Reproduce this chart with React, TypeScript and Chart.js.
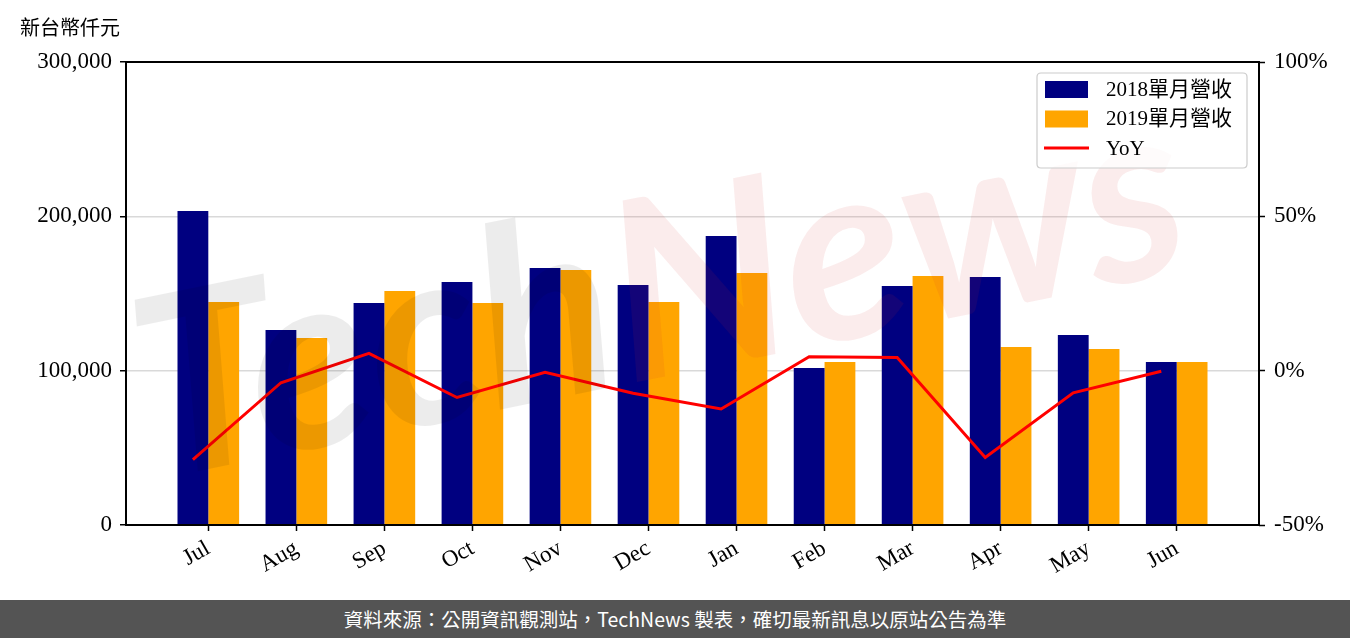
import React, { useEffect, useRef } from 'react';
import { Chart, registerables } from 'chart.js';

Chart.register(...registerables);

const months = ['Jul', 'Aug', 'Sep', 'Oct', 'Nov', 'Dec', 'Jan', 'Feb', 'Mar', 'Apr', 'May', 'Jun'];
const revenue2018 = [203500, 126400, 143800, 157500, 166500, 155500, 187300, 101700, 154900, 160700, 123100, 105600];
const revenue2019 = [144500, 121200, 151600, 143800, 165200, 144500, 163300, 105600, 161300, 115300, 114000, 105600];
const yoyPct = [-28.8, -3.9, 5.6, -8.7, -0.5, -7.3, -12.4, 4.5, 4.3, -28.1, -7.2, -0.2];
const leftTicks = [0, 100000, 200000, 300000];
const rightTicks = [-50, 0, 50, 100];

const unitLabel = '新台幣仟元';
const footerText = '資料來源：公開資訊觀測站，TechNews 製表，確切最新訊息以原站公告為準';

const serif = "'Liberation Serif', 'Noto Sans CJK TC', serif";
const cjk = "'Noto Sans CJK TC', 'Noto Sans', sans-serif";

const framePlugin = {
  id: 'frameAndExtras',
  afterDatasetsDraw(chart: any) {
    const ctx = chart.ctx;
    const a = chart.chartArea;
    // watermark
    ctx.save();
    ctx.translate(660, 295);
    ctx.rotate((-11.5 * Math.PI) / 180);
    ctx.font = 'italic 700 250px Lato';
    const wTech = ctx.measureText('Tech').width;
    const wNews = ctx.measureText('News').width;
    const total = wTech + wNews;
    ctx.textBaseline = 'middle';
    ctx.fillStyle = 'rgba(0,0,0,0.075)';
    ctx.fillText('Tech', -total / 2, 0);
    ctx.fillStyle = 'rgba(210,40,40,0.09)';
    ctx.fillText('News', -total / 2 + wTech, 0);
    ctx.restore();

    // frame
    ctx.save();
    ctx.strokeStyle = '#000';
    ctx.lineWidth = 2;
    ctx.strokeRect(a.left, a.top, a.right - a.left, a.bottom - a.top);
    ctx.restore();
  },
  afterDraw(chart: any) {
    const ctx = chart.ctx;
    const a = chart.chartArea;
    // unit label
    ctx.save();
    ctx.font = `20px ${cjk}`;
    ctx.fillStyle = '#000';
    ctx.textBaseline = 'middle';
    ctx.textAlign = 'left';
    ctx.fillText(unitLabel, 20, 27);
    ctx.restore();

    // legend
    const w = 210;
    const h = 95;
    const x0 = a.right - 12 - w;
    const y0 = a.top + 11;
    ctx.save();
    ctx.beginPath();
    const r = 4;
    ctx.moveTo(x0 + r, y0);
    ctx.lineTo(x0 + w - r, y0);
    ctx.quadraticCurveTo(x0 + w, y0, x0 + w, y0 + r);
    ctx.lineTo(x0 + w, y0 + h - r);
    ctx.quadraticCurveTo(x0 + w, y0 + h, x0 + w - r, y0 + h);
    ctx.lineTo(x0 + r, y0 + h);
    ctx.quadraticCurveTo(x0, y0 + h, x0, y0 + h - r);
    ctx.lineTo(x0, y0 + r);
    ctx.quadraticCurveTo(x0, y0, x0 + r, y0);
    ctx.closePath();
    ctx.fillStyle = 'rgba(255,255,255,0.8)';
    ctx.fill();
    ctx.strokeStyle = '#cccccc';
    ctx.lineWidth = 1.2;
    ctx.stroke();

    const ds = chart.data.datasets;
    const order = [0, 1, 2];
    ctx.font = `21px ${serif}`;
    ctx.textBaseline = 'middle';
    ctx.textAlign = 'left';
    order.forEach((idx, row) => {
      const d = ds[idx];
      const cy = y0 + 16 + row * 29.5;
      if (d.type === 'line') {
        ctx.strokeStyle = d.borderColor;
        ctx.lineWidth = 3;
        ctx.beginPath();
        ctx.moveTo(x0 + 7, cy);
        ctx.lineTo(x0 + 52, cy);
        ctx.stroke();
      } else {
        ctx.fillStyle = d.backgroundColor;
        ctx.fillRect(x0 + 8, cy - 8, 43, 17);
      }
      ctx.fillStyle = '#000';
      ctx.fillText(d.label, x0 + 69, cy + 1);
    });
    ctx.restore();
  },
};

export default function App() {
  const ref = useRef<HTMLCanvasElement | null>(null);

  useEffect(() => {
    document.body.style.margin = '0';
    const canvas = ref.current;
    if (!canvas) return;
    const tickFont = { family: serif, size: 23 };
    const chart = new Chart(canvas, {
      type: 'bar',
      data: {
        datasets: [
          {
            type: 'bar',
            label: '2018單月營收',
            data: revenue2018.map((v, i) => ({ x: i, y: v })),
            backgroundColor: '#000080',
            categoryPercentage: 0.7,
            barPercentage: 1.0,
            yAxisID: 'y',
            order: 2,
          },
          {
            type: 'bar',
            label: '2019單月營收',
            data: revenue2019.map((v, i) => ({ x: i, y: v })),
            backgroundColor: '#FFA500',
            categoryPercentage: 0.7,
            barPercentage: 1.0,
            yAxisID: 'y',
            order: 2,
          },
          {
            type: 'line',
            label: 'YoY',
            data: yoyPct.map((v, i) => ({ x: i - 0.175, y: v })),
            borderColor: '#FF0000',
            backgroundColor: '#FF0000',
            borderWidth: 3,
            pointRadius: 0,
            tension: 0,
            yAxisID: 'y1',
            order: 0,
          },
        ] as any,
      },
      options: {
        animation: false,
        responsive: false,
        maintainAspectRatio: false,
        layout: { padding: { top: 62, left: 0, right: 0, bottom: 0 } },
        plugins: {
          legend: { display: false },
          tooltip: { enabled: false },
          title: { display: false },
        },
        scales: {
          x: {
            type: 'linear',
            min: -0.935,
            max: 11.935,
            offset: false,
            afterBuildTicks: (s: any) => {
              s.ticks = months.map((_, i) => ({ value: i }));
            },
            afterFit: (s: any) => {
              s.height = 75;
            },
            ticks: {
              callback: (v: any) => months[Math.round(Number(v))] ?? '',
              minRotation: 30,
              maxRotation: 30,
              autoSkip: false,
              font: tickFont,
              color: '#000',
              padding: 4,
            },
            grid: { offset: false, drawOnChartArea: false, tickColor: '#000', tickLength: 6, tickWidth: 1.5 },
            border: { display: false },
          },
          y: {
            position: 'left',
            min: 0,
            max: 300000,
            afterBuildTicks: (s: any) => {
              s.ticks = leftTicks.map((v) => ({ value: v }));
            },
            afterFit: (s: any) => {
              s.width = 126;
            },
            ticks: {
              callback: (v: any) => Number(v).toLocaleString('en-US'),
              font: tickFont,
              color: '#000',
              padding: 8,
            },
            grid: { color: '#d9d9d9', lineWidth: 1.5, tickColor: '#000', tickLength: 6, tickWidth: 1.5 },
            border: { display: false },
          },
          y1: {
            position: 'right',
            min: -50,
            max: 100,
            afterBuildTicks: (s: any) => {
              s.ticks = rightTicks.map((v) => ({ value: v }));
            },
            afterFit: (s: any) => {
              s.width = 91;
            },
            ticks: {
              callback: (v: any) => `${v}%`,
              font: tickFont,
              color: '#000',
              padding: 9,
            },
            grid: { drawOnChartArea: false, tickColor: '#000', tickLength: 6, tickWidth: 1.5 },
            border: { display: false },
          },
        } as any,
      },
      plugins: [framePlugin],
    });
    return () => chart.destroy();
  }, []);

  return (
    <div style={{ width: 1350, height: 638, background: '#fff', overflow: 'hidden' }}>
      <canvas ref={ref} width={1350} height={600} style={{ display: 'block', width: 1350, height: 600 }} />
      <div
        style={{
          height: 38,
          background: '#545454',
          color: '#fff',
          fontFamily: cjk,
          fontSize: 19.5,
          lineHeight: '38px',
          textAlign: 'center',
          whiteSpace: 'nowrap',
        }}
      >
        {footerText}
      </div>
    </div>
  );
}
